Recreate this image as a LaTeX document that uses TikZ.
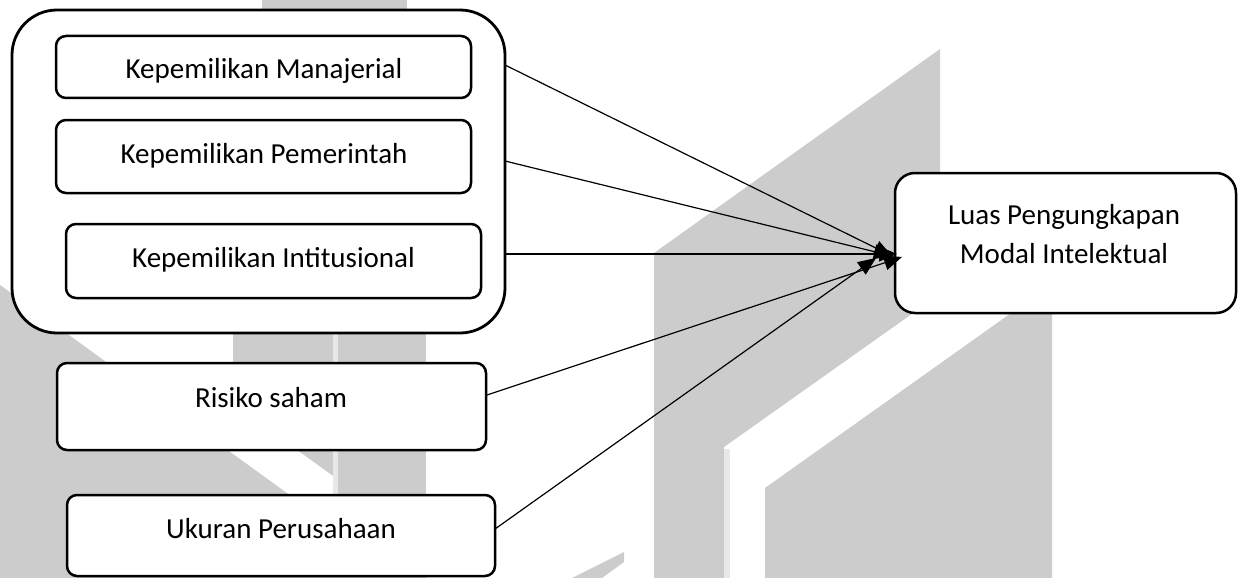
\documentclass[tikz,border=0pt]{standalone}
\usepackage{fontspec}
\setmainfont{Carlito}
\usetikzlibrary{arrows.meta}
\begin{document}
\begin{tikzpicture}[x=1pt,y=-1pt,
  box/.style={draw,line width=2.5pt,fill=white,rounded corners=10pt,inner sep=0pt},
  lbl/.style={anchor=base,inner sep=0pt,font=\fontsize{29pt}{39pt}\selectfont},
  arr/.style={line width=1.2pt,-{Triangle[length=18pt,width=15pt]}},
  wm/.style={fill=black!20},
  wmlight/.style={fill=black!9}]
\useasboundingbox (0,0) rectangle (1243,578);
\fill[white] (0,0) rectangle (1243,578);
% watermark (right)
\fill[wm] (654,578) -- (654,253) -- (940,49) -- (940,294) -- (724,447) -- (724,578) -- cycle;
\fill[wmlight] (724,449) rectangle (730,578);
\fill[wm] (765,578) -- (765,488) -- (1052,284) -- (1052,578) -- cycle;
\fill[wm] (572,578) -- (624,552) -- (624,562) -- (602,578) -- cycle;
% watermark (left)
\fill[wm] (233,300) rectangle (333,578);
\begin{scope}
  \clip (233,0) rectangle (333,578);
  \fill[white] (0,286) -- (404,578) -- (474,578) -- (70,286) -- cycle;
\end{scope}
\fill[wmlight] (333,300) rectangle (338,578);
\fill[wm] (338,300) rectangle (426,578);
\fill[wm] (0,285) -- (404,578) -- (0,578) -- cycle;
\fill[wm] (262,0) rectangle (407,20);
% boxes
\node[box, line width=2.8pt, rounded corners=45pt, minimum width=493pt, minimum height=323pt] (grp) at (258.5,171.5) {};
\node[box, minimum width=415pt, minimum height=62pt] (man) at (263.5,67) {};
\node[box, minimum width=415pt, minimum height=73pt] (pem) at (263.5,156.5) {};
\node[box, minimum width=415pt, minimum height=74pt] (ins) at (273.5,261) {};
\node[box, minimum width=429pt, minimum height=87pt] (risk) at (271.5,406.5) {};
\node[box, minimum width=428pt, minimum height=81pt] (uk) at (281,535.5) {};
\node[box, rounded corners=20pt, minimum width=341pt, minimum height=140pt] (luas) at (1065.5,243) {};
% texts
\node[lbl] (tman) at (264,78) {Kepemilikan Manajerial};
\node[lbl] (tpem) at (264,163) {Kepemilikan Pemerintah};
\node[lbl] (tins) at (273.5,267) {Kepemilikan Intitusional};
\node[lbl] (trisk) at (271,407) {Risiko saham};
\node[lbl] (tuk) at (281,538) {Ukuran Perusahaan};
\node[lbl, anchor=center, align=center] (tluas) at (1064,234) {Luas Pengungkapan\\Modal Intelektual};
% connector ends
\coordinate (s1) at (505,65);
\coordinate (s2) at (505,161);
\coordinate (s3) at (505,254);
\coordinate (s4) at (487,395);
\coordinate (s5) at (495,529);
\coordinate (e1) at (892,256);
\coordinate (e2) at (892,256);
\coordinate (e3) at (897,254);
\coordinate (e4) at (902,257);
\coordinate (e5) at (876,258);
\draw[arr] (s1) -- (e1);
\draw[arr] (s2) -- (e2);
\draw[arr] (s3) -- (e3);
\draw[arr] (s4) -- (e4);
\draw[arr] (s5) -- (e5);
\end{tikzpicture}
\end{document}
